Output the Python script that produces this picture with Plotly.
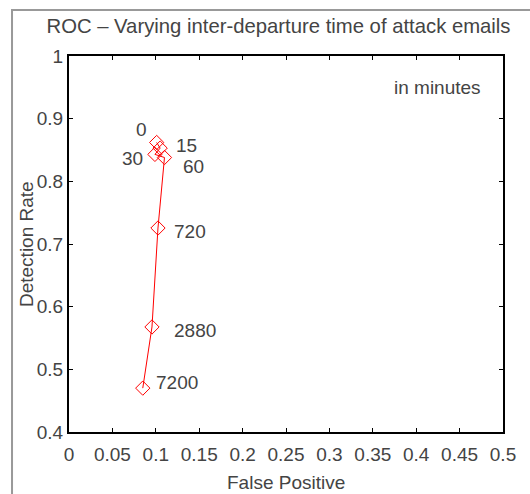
import plotly.graph_objects as go

# Data
intervals = ["0", "15", "30", "60", "720", "2880", "7200"]
false_positive = [0.101, 0.105, 0.099, 0.110, 0.1025, 0.0956, 0.085]
detection_rate = [0.862, 0.853, 0.843, 0.838, 0.7255, 0.5676, 0.470]

x_ticks = [0, 0.05, 0.1, 0.15, 0.2, 0.25, 0.3, 0.35, 0.4, 0.45, 0.5]
x_tick_labels = ["0", "0.05", "0.1", "0.15", "0.2", "0.25", "0.3", "0.35", "0.4", "0.45", "0.5"]
y_ticks = [0.4, 0.5, 0.6, 0.7, 0.8, 0.9, 1.0]
y_tick_labels = ["0.4", "0.5", "0.6", "0.7", "0.8", "0.9", "1"]

# label offsets in pixels (style)
label_style = {
    "0": (-15, 13), "15": (26, 3), "30": (-22, -4), "60": (29, -9),
    "720": (32, -3), "2880": (43, -4), "7200": (34, 6),
}

FONT = "Liberation Sans, Arial, sans-serif"
TXT = "#444444"
FS = 19

fig = go.Figure()
fig.add_trace(go.Scatter(
    x=false_positive, y=detection_rate, mode="lines+markers",
    line=dict(color="red", width=1),
    marker=dict(symbol="diamond-open", size=11, color="red", line=dict(width=1, color="red")),
    showlegend=False, hoverinfo="skip",
))

for lab, xv, yv in zip(intervals, false_positive, detection_rate):
    dx, dy = label_style[lab]
    fig.add_annotation(x=xv, y=yv, text=lab, showarrow=False, xshift=dx, yshift=dy,
                       font=dict(family=FONT, size=FS, color=TXT))

fig.add_annotation(x=0.954, y=0.915, xref="paper", yref="paper", text="in minutes",
                   showarrow=False, xanchor="right", yanchor="middle",
                   font=dict(family=FONT, size=FS, color=TXT))

# y-axis title
fig.add_annotation(x=-0.099, y=0.5, xref="paper", yref="paper", text="Detection Rate",
                   textangle=-90, showarrow=False, xanchor="center", yanchor="middle",
                   font=dict(family=FONT, size=FS, color=TXT))

# x-axis title
fig.add_annotation(x=0.5, y=-0.135, xref="paper", yref="paper", text="False Positive",
                   showarrow=False, xanchor="center", yanchor="middle",
                   font=dict(family=FONT, size=FS, color=TXT))

# outer frame
fig.add_shape(type="rect", xref="paper", yref="paper",
              x0=-0.1313, x1=1.2, y0=-0.3, y1=1.1223,
              line=dict(color="#999999", width=2), layer="below")

axis_common = dict(
    showgrid=False, zeroline=False, showline=True, linecolor="black", linewidth=2,
    mirror="ticks", ticks="inside", ticklen=4, tickcolor="black",
    tickfont=dict(family=FONT, size=FS, color=TXT), automargin=False,
)

fig.update_layout(
    width=530, height=494,
    margin=dict(l=69, r=27, t=56, b=62),
    paper_bgcolor="white", plot_bgcolor="white",
    title=dict(text="ROC \u2013 Varying inter-departure time of attack emails",
               x=0.5255, xanchor="center", y=0.948, yanchor="middle",
               font=dict(family=FONT, size=20.3, color=TXT)),
    xaxis=dict(range=[0, 0.5], tickvals=x_ticks, ticktext=x_tick_labels,
               ticklabelstandoff=4, **axis_common),
    yaxis=dict(range=[0.4, 1.0], tickvals=y_ticks, ticktext=y_tick_labels,
               **axis_common),
)

fig.write_html("out.html")
